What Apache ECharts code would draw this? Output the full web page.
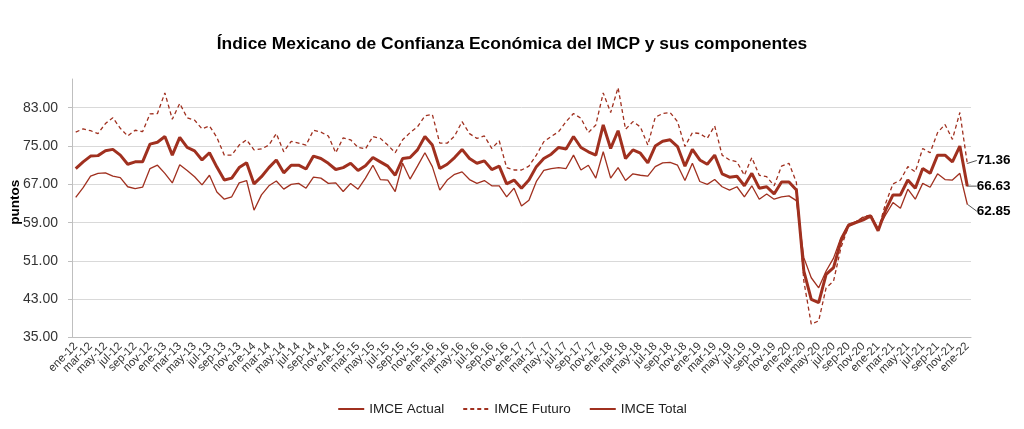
<!DOCTYPE html>
<html><head><meta charset="utf-8">
<script src="https://cdn.jsdelivr.net/npm/echarts@6/dist/echarts.min.js"></script>
<style>html,body{margin:0;padding:0;background:#fff}#c{width:1024px;height:429px}</style>
</head><body><div id="c"></div>
<script>
const monthNames = ['ene','feb','mar','abr','may','jun','jul','ago','sep','oct','nov','dic'];
const years = ['12','13','14','15','16','17','18','19','20','21','22'];
const categories = [];
years.forEach(y => monthNames.forEach(m => { if (categories.length < 121) categories.push(m + '-' + y); }));

const actual = [64.3,66.3,68.7,69.3,69.4,68.7,68.4,66.5,66.1,66.4,70.3,71.0,69.3,67.3,71.1,69.9,68.6,66.9,68.9,65.4,
63.9,64.4,67.3,67.8,61.6,64.8,66.7,67.7,66.0,67.0,67.2,66.2,68.5,68.3,67.2,67.3,65.5,67.2,66.0,68.3,
71.0,68.0,67.9,65.5,71.4,68.1,70.8,73.6,70.7,65.8,67.9,69.1,69.6,68.0,67.2,67.8,66.7,66.7,64.4,66.2,
62.5,63.7,67.6,69.9,70.3,70.5,70.3,73.1,70.0,71.0,68.3,73.8,68.3,70.5,67.8,69.2,68.9,68.7,70.7,71.5,
71.6,71.0,67.8,71.4,67.6,67.0,68.0,66.5,65.8,66.5,64.4,66.7,63.9,65.0,63.9,64.4,64.6,63.6,51.7,47.5,
45.4,48.9,51.6,55.9,58.7,59.2,60.1,60.6,57.8,60.6,63.2,62.0,66.0,63.9,67.2,66.4,69.2,68.0,67.9,69.3,
62.85];
const futuro = [77.9,78.6,78.2,77.6,79.7,80.9,78.7,77.1,78.3,78.0,81.7,81.8,86.1,80.6,83.9,80.9,80.4,78.6,79.2,76.8,
73.1,73.1,75.2,76.3,74.2,74.4,75.2,77.6,73.8,76.0,75.6,75.2,78.3,77.9,77.1,73.6,76.7,76.3,74.7,74.4,
77.0,76.6,75.2,73.6,76.3,77.8,79.0,81.3,81.6,75.6,75.6,77.1,80.1,77.6,76.6,77.1,74.5,76.1,70.5,70.0,
70.0,70.8,73.1,75.9,77.0,78.0,80.1,81.8,80.8,77.8,79.4,86.1,82.0,87.2,78.5,80.1,79.0,75.2,81.0,81.8,
82.0,80.1,74.9,77.8,77.6,76.6,79.2,73.1,72.1,71.7,68.9,72.6,68.9,68.6,66.7,70.8,71.4,67.4,46.8,37.8,
38.5,45.4,46.8,53.8,58.2,59.2,60.2,60.6,57.5,63.0,67.1,67.9,70.7,69.6,74.5,73.6,77.8,79.5,76.4,82.0,
71.36];
const total = [70.3,71.7,72.9,73.0,74.0,74.3,73.1,71.2,71.7,71.7,75.4,75.8,77.0,73.1,76.8,74.7,74.0,72.1,73.6,70.6,
67.9,68.3,70.5,71.5,67.1,68.6,70.5,72.1,69.4,71.0,71.0,70.2,72.9,72.4,71.4,70.1,70.5,71.4,69.9,70.9,
72.6,71.7,70.8,68.9,72.4,72.6,74.2,77.0,75.2,70.3,71.2,72.6,74.3,72.4,71.4,71.9,70.1,70.8,67.1,67.9,
66.2,67.9,70.7,72.4,73.3,74.7,74.4,77.0,74.7,73.8,73.1,79.4,74.5,78.2,72.4,74.2,73.5,71.5,75.0,76.0,
76.3,74.9,70.8,74.3,72.1,71.2,73.1,69.2,68.5,68.7,66.7,69.3,66.2,66.5,65.0,67.5,67.5,65.8,48.9,43.0,
42.3,48.2,49.6,55.2,58.4,59.0,59.6,60.4,57.3,61.6,64.8,64.8,67.9,66.2,70.3,69.3,73.1,73.1,71.7,75.0,
66.63];
const yTicks = {min: 35, max: 89, interval: 8};

const color = '#a0301f';
const font = '"Liberation Sans", Arial, sans-serif';

function withEnd(arr){
  return arr.map((v,i)=> i===arr.length-1 ? {value:v, symbol:'circle', symbolSize:1, label:{show:true}} : v);
}
function endLabel(dy){
  return {
    label:{show:false, position:'right', distance:9, formatter:(p)=>Number(p.value).toFixed(2),
      fontFamily:font, fontWeight:'bold', fontSize:13.5, color:'#000'},
    labelLine:{show:true, lineStyle:{color:'#555', width:1}},
    labelLayout:{dy:dy}
  };
}
const xLabelStyle = {rotate:45, fontSize:11.5, color:'#333', fontFamily:font, margin:7, hideOverlap:false};

const chart = echarts.init(document.getElementById('c'), null, {renderer:'canvas'});
chart.setOption({
  animation:false,
  backgroundColor:'#fff',
  textStyle:{fontFamily:font},
  title:{text:'Índice Mexicano de Confianza Económica del IMCP y sus componentes',
    left:'center', top:31, textStyle:{fontFamily:font, fontWeight:'bold', fontSize:17.4, color:'#000'}},
  legend:{bottom:8, left:'center', itemWidth:26, itemHeight:10, itemGap:18,
    itemStyle:{opacity:0},
    textStyle:{fontFamily:font, fontSize:13.5, color:'#222'},
    data:['IMCE Actual','IMCE Futuro','IMCE Total']},
  grid:{left:72, right:53, top:79, bottom:91.4, containLabel:false, outerBoundsMode:'none'},
  xAxis:[
    {type:'category', data:categories, boundaryGap:true, position:'bottom',
      axisLine:{lineStyle:{color:'#bfbfbf'}},
      axisTick:{interval:1, length:5, lineStyle:{color:'#bfbfbf'}},
      axisLabel:Object.assign({interval:(i)=> i % 4 === 0}, xLabelStyle)},
    {type:'category', data:categories, boundaryGap:true, position:'bottom',
      axisLine:{show:false}, axisTick:{show:false}, splitLine:{show:false},
      axisLabel:Object.assign({interval:(i)=> i % 4 === 2}, xLabelStyle)}
  ],
  yAxis:{type:'value', min:yTicks.min, max:yTicks.max, interval:yTicks.interval,
    name:'puntos', nameLocation:'middle', nameGap:50, nameMoveOverlap:false,
    nameTextStyle:{fontFamily:font, fontWeight:'bold', fontSize:13.5, color:'#000', padding:[0,0,0,12]},
    axisLine:{show:true, lineStyle:{color:'#bfbfbf'}},
    axisTick:{show:true, length:4, lineStyle:{color:'#bfbfbf'}},
    axisLabel:{formatter:(v)=>v.toFixed(2), fontSize:14, color:'#333', fontFamily:font, margin:14, showMaxLabel:false},
    splitLine:{showMaxLine:false, lineStyle:{color:'#d9d9d9', width:1}}},
  series:[
    Object.assign({name:'IMCE Actual', type:'line', data:withEnd(actual), symbol:'none', showSymbol:true, showAllSymbol:true, clip:false,
      lineStyle:{color:color, width:1.3}, itemStyle:{color:color}}, endLabel(7)),
    Object.assign({name:'IMCE Futuro', type:'line', data:withEnd(futuro), symbol:'none', showSymbol:true, showAllSymbol:true, clip:false,
      lineStyle:{color:color, width:1.3, type:[4,3]}, itemStyle:{color:color}}, endLabel(-3)),
    Object.assign({name:'IMCE Total', type:'line', data:withEnd(total), symbol:'none', showSymbol:true, showAllSymbol:true, clip:false,
      lineStyle:{color:color, width:3}, itemStyle:{color:color}}, endLabel(0))
  ]
});
</script></body></html>
